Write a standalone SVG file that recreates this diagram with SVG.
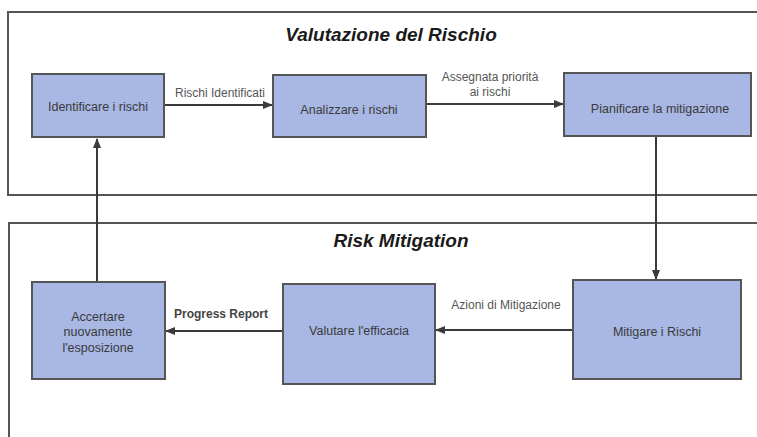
<svg xmlns="http://www.w3.org/2000/svg" width="757" height="437" viewBox="0 0 757 437">
<defs>
<marker id="ah" viewBox="0 0 10 10" refX="9" refY="5" markerWidth="10" markerHeight="10" markerUnits="userSpaceOnUse" orient="auto">
<path d="M0,1 L10,5 L0,9 z" fill="#3a3a3a"/>
</marker>
</defs>
<style>
.cont{fill:none;stroke:#555;stroke-width:2}
.box{fill:#a8b7e4;stroke:#555;stroke-width:2}
.title{font-family:"Liberation Sans",Arial,sans-serif;font-size:19px;font-weight:bold;font-style:italic;fill:#1a1a1a;text-anchor:middle}
.nt{font-family:"Liberation Sans",Arial,sans-serif;font-size:12.5px;fill:#3a3a3a;text-anchor:middle}
.lbl{font-family:"Liberation Sans",Arial,sans-serif;font-size:12px;fill:#555;text-anchor:middle}
.edge{fill:none;stroke:#3a3a3a;stroke-width:2;marker-end:url(#ah)}
</style>
<rect width="757" height="437" fill="#fff"/>
<g id="container-valutazione">
<rect class="cont" x="8" y="12" width="770" height="183"/>
<text class="title" x="391" y="41">Valutazione del Rischio</text>
</g>
<g id="container-mitigation">
<rect class="cont" x="9" y="223" width="770" height="230"/>
<text class="title" x="401" y="247">Risk Mitigation</text>
</g>
<g id="connectors">
<line class="edge" x1="164" y1="105" x2="272" y2="105"/>
<text class="lbl" x="220" y="97">Rischi Identificati</text>
<line class="edge" x1="426" y1="104" x2="563" y2="104"/>
<text class="lbl" x="490" y="81">Assegnata priorità</text>
<text class="lbl" x="490" y="96">ai rischi</text>
<line class="edge" x1="656" y1="137" x2="656" y2="279"/>
<line class="edge" x1="573" y1="330" x2="436" y2="330"/>
<text class="lbl" x="506" y="309">Azioni di Mitigazione</text>
<line class="edge" x1="282" y1="331" x2="166" y2="331"/>
<text class="lbl" x="221" y="318" style="font-weight:bold;fill:#444">Progress Report</text>
<line class="edge" x1="97" y1="282" x2="97" y2="139"/>
</g>
<g id="node-identificare">
<rect class="box" x="32" y="74" width="132" height="63"/>
<text class="nt" x="98" y="111">Identificare i rischi</text>
</g>
<g id="node-analizzare">
<rect class="box" x="273" y="75" width="153" height="62"/>
<text class="nt" x="349" y="114">Analizzare i rischi</text>
</g>
<g id="node-pianificare">
<rect class="box" x="564" y="73" width="187" height="63"/>
<text class="nt" x="660" y="113">Pianificare la mitigazione</text>
</g>
<g id="node-mitigare">
<rect class="box" x="573" y="280" width="168" height="99"/>
<text class="nt" x="657" y="336">Mitigare i Rischi</text>
</g>
<g id="node-valutare">
<rect class="box" x="283" y="284" width="152" height="100"/>
<text class="nt" x="359" y="335">Valutare l'efficacia</text>
</g>
<g id="node-accertare">
<rect class="box" x="32" y="282" width="133" height="97"/>
<text class="nt" x="98" y="321">Accertare</text>
<text class="nt" x="98" y="336">nuovamente</text>
<text class="nt" x="98" y="352">l'esposizione</text>
</g>
</svg>
